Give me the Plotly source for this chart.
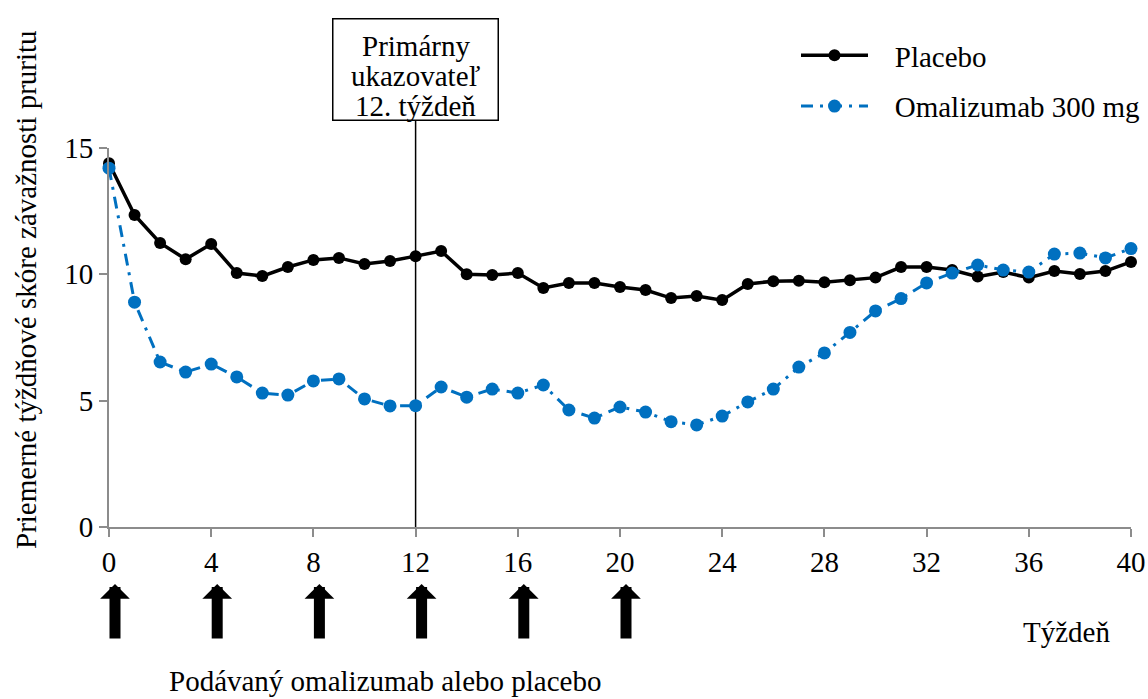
import plotly.graph_objects as go

weeks = list(range(0, 41))
placebo = [14.4, 12.35, 11.24, 10.6, 11.2, 10.05, 9.93, 10.29, 10.57, 10.65,
           10.41, 10.53, 10.72, 10.92, 10.0, 9.97, 10.05, 9.46, 9.66, 9.66,
           9.5, 9.38, 9.06, 9.14, 8.98, 9.62, 9.73, 9.75, 9.69, 9.77,
           9.87, 10.29, 10.29, 10.17, 9.91, 10.09, 9.87, 10.13, 10.01, 10.13,
           10.49]
omalizumab = [14.2, 8.9, 6.53, 6.13, 6.45, 5.94, 5.3, 5.22, 5.78, 5.86,
              5.07, 4.79, 4.8, 5.54, 5.14, 5.46, 5.3, 5.62, 4.63, 4.31,
              4.75, 4.55, 4.17, 4.04, 4.39, 4.95, 5.46, 6.33, 6.89, 7.7,
              8.55, 9.04, 9.66, 10.05, 10.37, 10.17, 10.09, 10.8, 10.84, 10.65,
              11.02]
dose_weeks = [0, 4, 8, 12, 16, 20]
primary_week = 12
x_ticks = list(range(0, 41, 4))
y_ticks = [0, 5, 10, 15]

FONT = "Liberation Serif"
BLUE = "#0070C0"
FS = 29
PAD = "\u00a0\u00a0\u00a0"

fig = go.Figure()
fig.add_trace(go.Scatter(
    x=weeks, y=placebo, name=PAD + "Placebo", mode="lines+markers",
    line=dict(color="black", width=3.5),
    marker=dict(color="black", size=12),
    cliponaxis=False, legendgroup="a"))
fig.add_trace(go.Scatter(
    x=weeks, y=omalizumab, name=PAD + "Omalizumab 300 mg", mode="lines+markers",
    line=dict(color=BLUE, width=3, dash="12px,7px,3px,7px"),
    marker=dict(color=BLUE, size=13),
    cliponaxis=False, legendgroup="b"))

W, H = 1148, 699
PL, PT, PWID, PHGT = 109, 148, 1022, 379   # plot area in page pixels
L, T = PL, PT
R = W - L - PWID
B = H - T - PHGT


def py(pix):
    return 1 - (pix - PT) / PHGT


def px(pix):
    return (pix - PL) / PWID


annotations = []
# primary endpoint box
annotations.append(dict(x=primary_week, xref="x", y=py(69.5), yref="paper",
                        text="", showarrow=False, width=164, height=100,
                        bordercolor="black", borderwidth=1.5, borderpad=0,
                        bgcolor="white", xanchor="center", yanchor="middle"))
for txt, yy in zip(["Primárny", "ukazovateľ", "12. týždeň"], [46, 76, 106]):
    annotations.append(dict(x=primary_week, xref="x", y=py(yy), yref="paper",
                            text=txt, showarrow=False,
                            font=dict(family=FONT, size=FS, color="black"),
                            xanchor="center", yanchor="middle"))
# dose arrows
for w in dose_weeks:
    annotations.append(dict(x=w, xref="x", y=py(584), yref="paper",
                            text="", showarrow=True, ax=0, ay=56,
                            arrowhead=1, arrowsize=0.45, arrowwidth=11,
                            arrowcolor="black", standoff=0, xshift=6))
annotations.append(dict(x=px(385), xref="paper", y=py(681), yref="paper",
                        text="Podávaný omalizumab alebo placebo", showarrow=False,
                        font=dict(family=FONT, size=FS, color="black"),
                        xanchor="center", yanchor="middle"))
annotations.append(dict(x=px(1112), xref="paper", y=py(632), yref="paper",
                        text="Týždeň", showarrow=False,
                        font=dict(family=FONT, size=FS, color="black"),
                        xanchor="right", yanchor="middle"))
annotations.append(dict(x=px(26), xref="paper", y=py(290), yref="paper",
                        text="Priemerné týždňové skóre závažnosti pruritu",
                        showarrow=False, textangle=-90,
                        font=dict(family=FONT, size=FS, color="black"),
                        xanchor="center", yanchor="middle"))

fig.update_layout(
    width=W, height=H,
    margin=dict(l=L, r=R, t=T, b=B, autoexpand=False),
    paper_bgcolor="white", plot_bgcolor="white",
    font=dict(family=FONT, size=FS, color="black"),
    showlegend=True,
    legend=dict(x=px(796), xanchor="left", y=py(30), yanchor="top",
                font=dict(family=FONT, size=FS, color="black"),
                bgcolor="rgba(0,0,0,0)", tracegroupgap=10, itemwidth=67),
    xaxis=dict(range=[0, 40], tickvals=x_ticks, showgrid=False, zeroline=False,
               automargin=False,
               showline=True, linecolor="#8c8c8c", linewidth=2,
               ticks="outside", ticklen=8, tickwidth=2, tickcolor="#8c8c8c",
               tickfont=dict(family=FONT, size=FS, color="black")),
    yaxis=dict(range=[0, 15], tickvals=y_ticks, showgrid=False, zeroline=False,
               automargin=False,
               showline=True, linecolor="#8c8c8c", linewidth=2,
               ticks="outside", ticklen=8, tickwidth=2, tickcolor="#8c8c8c",
               tickfont=dict(family=FONT, size=FS, color="black")),
    annotations=annotations,
    shapes=[dict(type="line", xref="x", x0=primary_week, x1=primary_week,
                 yref="paper", y0=0, y1=py(120),
                 line=dict(color="black", width=1.5), layer="below")],
)

fig.write_html("out.html",
               config={"displayModeBar": False},
               post_script="document.body.style.margin='0';"
                           "document.body.style.overflow='hidden';")
